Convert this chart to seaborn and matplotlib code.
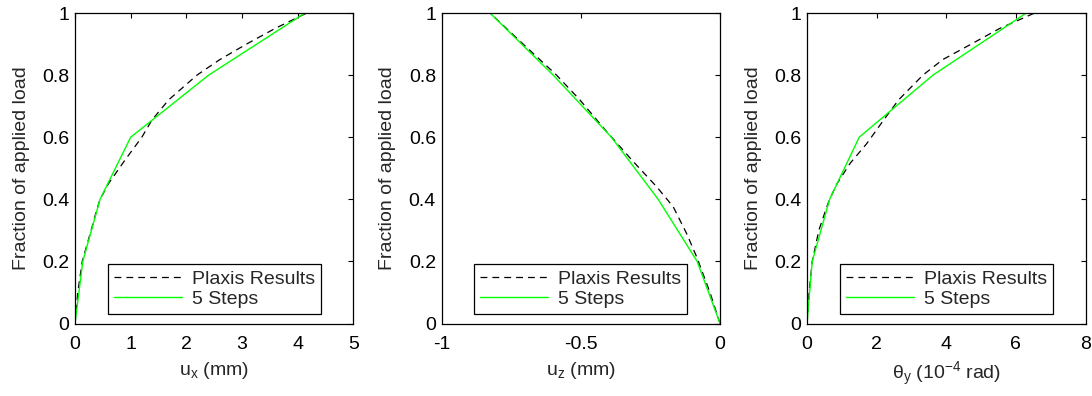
import numpy as np
import pandas as pd
import matplotlib
matplotlib.use("Agg")
import matplotlib.pyplot as plt
import seaborn as sns

# ---- data ----
load_steps = [0.0, 0.2, 0.4, 0.6, 0.8, 1.0]
ux_steps = [0.0, 0.14, 0.45, 1.0, 2.4, 4.13]
uz_steps = [0.0, -0.082, -0.222, -0.39, -0.599, -0.826]
th_steps = [0.0, 0.15, 0.65, 1.5, 3.62, 6.3]

load_plaxis_x = [0.0, 0.1, 0.2, 0.307, 0.366, 0.4, 0.45, 0.527, 0.6, 0.655, 0.72, 0.8, 0.85, 0.9, 0.95, 1.0]
ux_plaxis = [0.0, 0.05, 0.13, 0.30, 0.39, 0.45, 0.60, 0.90, 1.20, 1.38, 1.68, 2.19, 2.6, 3.08, 3.59, 4.16]

load_plaxis_z = [0.0, 0.1, 0.215, 0.29, 0.376, 0.44, 0.521, 0.618, 0.72, 0.8, 0.9, 1.0]
uz_plaxis = [0.0, -0.036, -0.084, -0.12, -0.168, -0.227, -0.311, -0.407, -0.503, -0.587, -0.707, -0.826]

load_plaxis_t = [0.0, 0.1, 0.2, 0.3, 0.376, 0.4, 0.45, 0.516, 0.58, 0.655, 0.72, 0.8, 0.85, 0.9, 0.95, 1.0]
th_plaxis = [0.0, 0.06, 0.15, 0.34, 0.57, 0.65, 0.86, 1.24, 1.72, 2.20, 2.63, 3.33, 3.9, 4.72, 5.53, 6.54]

xlabels = [r"u$_\mathregular{x}$ (mm)", r"u$_\mathregular{z}$ (mm)",
           r"$\theta_\mathregular{y}$ (10$^\mathregular{-4}$ rad)"]
xlims = [(0, 5), (-1, 0), (0, 8)]
xticks = [[0, 1, 2, 3, 4, 5], [-1, -0.5, 0], [0, 2, 4, 6, 8]]
xticklabels = [["0", "1", "2", "3", "4", "5"], ["-1", "-0.5", "0"], ["0", "2", "4", "6", "8"]]
yticks = [0, 0.2, 0.4, 0.6, 0.8, 1.0]
yticklabels = ["0", "0.2", "0.4", "0.6", "0.8", "1"]

sns.set_style("white")
plt.rcParams["font.family"] = ["Liberation Sans", "DejaVu Sans"]
plt.rcParams["mathtext.fontset"] = "custom"
plt.rcParams["mathtext.rm"] = "Liberation Sans"
plt.rcParams["mathtext.it"] = "Liberation Sans:italic"
plt.rcParams["mathtext.default"] = "regular"

FS = 14
fig = plt.figure(figsize=(10.92, 3.96), dpi=100)
lefts = [75 / 1092, 441.5 / 1092, 807 / 1092]
w = 278.5 / 1092
b = 1 - 323.5 / 396
h = 310.5 / 396

xs_plaxis = [ux_plaxis, uz_plaxis, th_plaxis]
ys_plaxis = [load_plaxis_x, load_plaxis_z, load_plaxis_t]
xs_steps = [ux_steps, uz_steps, th_steps]

for i in range(3):
    ax = fig.add_axes([lefts[i], b, w, h])
    dfp = pd.DataFrame({"x": xs_plaxis[i], "y": ys_plaxis[i]})
    dfs = pd.DataFrame({"x": xs_steps[i], "y": load_steps})
    sns.lineplot(data=dfp, x="x", y="y", ax=ax, sort=False, estimator=None,
                 color="black", lw=0.9, linestyle=(0, (5.5, 4)), label="Plaxis Results")
    sns.lineplot(data=dfs, x="x", y="y", ax=ax, sort=False, estimator=None,
                 color="#00ff00", lw=1.0, label="5 Steps")
    ax.set_xlim(*xlims[i])
    ax.set_ylim(0, 1)
    ax.set_xticks(xticks[i])
    ax.set_xticklabels(xticklabels[i])
    ax.set_yticks(yticks)
    ax.set_yticklabels(yticklabels)
    ax.tick_params(direction="in", top=True, right=True, length=3.5, width=0.8,
                   labelsize=FS, colors="black")
    ax.tick_params(axis="x", pad=9)
    ax.tick_params(axis="y", pad=4)
    for s in ax.spines.values():
        s.set_color("black")
        s.set_linewidth(0.9)
        s.set_visible(True)
    ax.set_xlabel(xlabels[i], fontsize=FS, labelpad=5)
    ax.set_ylabel("Fraction of applied load", fontsize=FS, labelpad=9)
    leg = ax.legend(loc="lower center", bbox_to_anchor=(0.5, 0.031), fontsize=FS,
                    handlelength=3.5, frameon=True, fancybox=False, borderpad=0.3,
                    labelspacing=0.13, handletextpad=0.5, borderaxespad=0)
    leg.get_frame().set_edgecolor("black")
    leg.get_frame().set_linewidth(0.9)
    leg.get_frame().set_alpha(1)

fig.savefig("out.png", dpi=100, facecolor="white")
